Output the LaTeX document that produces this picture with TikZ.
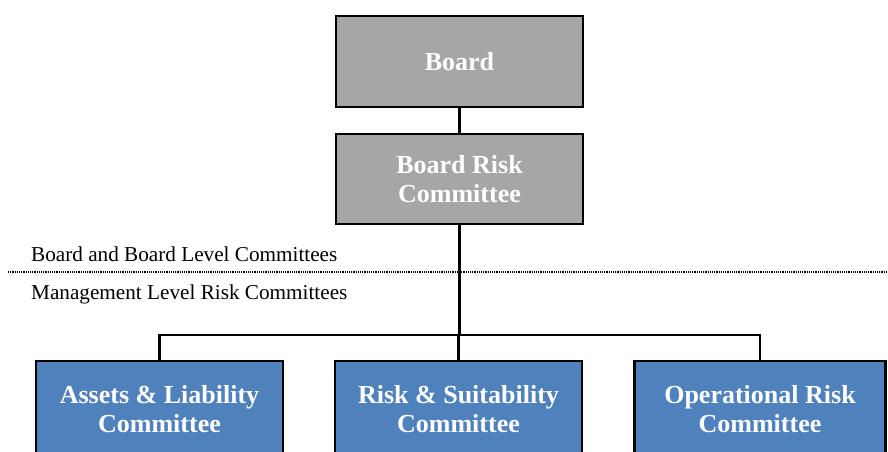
\documentclass[tikz,border=0pt]{standalone}
\usepackage{fontspec}
\setmainfont{Liberation Serif}
\definecolor{boardgrey}{HTML}{A6A6A6}
\definecolor{mgmtblue}{HTML}{4F81BD}
\begin{document}
\begin{tikzpicture}[x=1pt, y=-1pt,
    boardbox/.style={draw=black, line width=2.2pt, fill=boardgrey, minimum width=247pt, minimum height=91pt, align=center, text=white, font=\fontsize{26}{29}\selectfont\bfseries},
    mgmtbox/.style={boardbox, fill=mgmtblue, minimum height=96pt},
    link/.style={line width=2.2pt},
    levellabel/.style={anchor=west, inner sep=0pt, font=\fontsize{21.2}{24}\selectfont}]
    \clip (0,0) rectangle (888,452);
    \useasboundingbox (0,0) rectangle (888,452);

    % Board level
    \node[boardbox] (board) at (459.5,61.5) {Board};
    \node[boardbox, minimum height=90pt] (brc) at (459.5,179) {Board Risk\\Committee};

    % Level separator
    \node[levellabel] (boardlvl) at (31,254) {Board and Board Level Committees};
    \node[levellabel] (mgmtlvl) at (31,294) {Management Level Risk Committees};
    \draw[line width=1.2pt, dash pattern=on 1.2pt off 1pt] (8,272) -- (888,272);

    % Management level (cut off at the bottom)
    \node[mgmtbox] (alc) at (159.5,409) {Assets \& Liability\\Committee};
    \node[mgmtbox] (rsc) at (458.5,409) {Risk \& Suitability\\Committee};
    \node[mgmtbox, minimum width=251pt] (orc) at (760,409) {Operational Risk\\Committee};

    % Connectors
    \coordinate (bus) at (459.5,335);
    \draw[link] (board) -- (brc);
    \draw[link] (brc) -- (bus);
    \draw[link] (alc.north) |- (bus) -| (orc.north);
    \draw[link] (rsc.north) -- (rsc.north |- bus);
\end{tikzpicture}
\end{document}
